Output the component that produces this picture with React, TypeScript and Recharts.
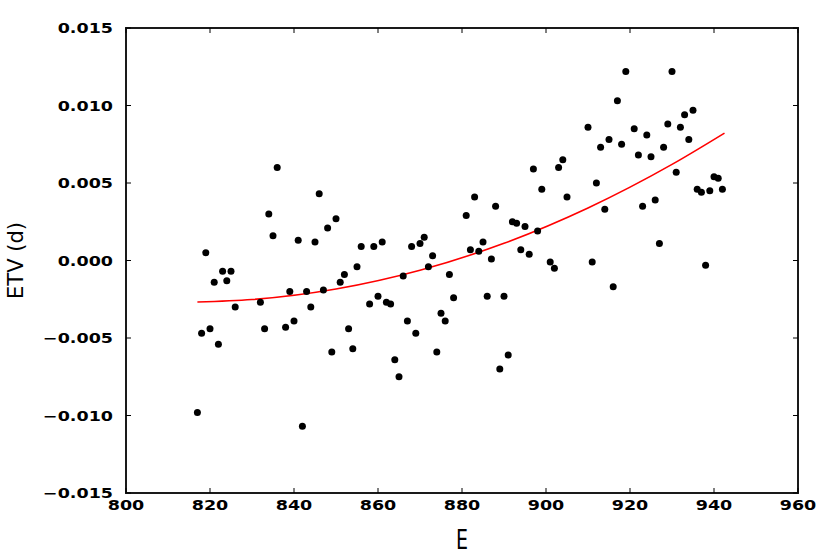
import {
  ComposedChart,
  Scatter,
  Line,
  XAxis,
  YAxis,
} from "recharts";

// epoch numbers and timing variations
const epochs = [
  817, 818, 819, 820, 821, 822, 823, 824, 825, 826,
  832, 833, 834, 835, 836, 838, 839, 840, 841, 842,
  843, 844, 845, 846, 847, 848, 849, 850, 851, 852,
  853, 854, 855, 856, 858, 859, 860, 861, 862, 863,
  864, 865, 866, 867, 868, 869, 870, 871, 872, 873,
  874, 875, 876, 877, 878, 881, 882, 883, 884, 885,
  886, 887, 888, 889, 890, 891, 892, 893, 894, 895,
  896, 897, 898, 899, 901, 902, 903, 904, 905, 910,
  911, 912, 913, 914, 915, 916, 917, 918, 919, 921,
  922, 923, 924, 925, 926, 927, 928, 929, 930, 931,
  932, 933, 934, 935, 936, 937, 938, 939, 940, 941,
  942,
];

const etv = [
  -0.0098, -0.0047, 0.0005, -0.0044, -0.0014, -0.0054, -0.0007, -0.0013, -0.0007, -0.003,
  -0.0027, -0.0044, 0.003, 0.0016, 0.006, -0.0043, -0.002, -0.0039, 0.0013, -0.0107,
  -0.002, -0.003, 0.0012, 0.0043, -0.0019, 0.0021, -0.0059, 0.0027, -0.0014, -0.0009,
  -0.0044, -0.0057, -0.0004, 0.0009, -0.0028, 0.0009, -0.0023, 0.0012, -0.0027, -0.0028,
  -0.0064, -0.0075, -0.001, -0.0039, 0.0009, -0.0047, 0.0011, 0.0015, -0.0004, 0.0003,
  -0.0059, -0.0034, -0.0039, -0.0009, -0.0024, 0.0029, 0.0007, 0.0041, 0.0006, 0.0012,
  -0.0023, 0.0001, 0.0035, -0.007, -0.0023, -0.0061, 0.0025, 0.0024, 0.0007, 0.0022,
  0.0004, 0.0059, 0.0019, 0.0046, -0.0001, -0.0005, 0.006, 0.0065, 0.0041, 0.0086,
  -0.0001, 0.005, 0.0073, 0.0033, 0.0078, -0.0017, 0.0103, 0.0075, 0.0122, 0.0085,
  0.0068, 0.0035, 0.0081, 0.0067, 0.0039, 0.0011, 0.0073, 0.0088, 0.0122, 0.0057,
  0.0086, 0.0094, 0.0078, 0.0097, 0.0046, 0.0044, -0.0003, 0.0045, 0.0054, 0.0053,
  0.0046,
];

// red fitted curve
const fitE = [817, 830, 850, 870, 890, 910, 930, 942.5];
const fitEtv = [-0.00268, -0.00252, -0.00184, -0.00063, 0.00111, 0.00339, 0.0062, 0.00822];

const xTicks = [800, 820, 840, 860, 880, 900, 920, 940, 960];
const yTicks = [-0.015, -0.01, -0.005, 0, 0.005, 0.01, 0.015];

const points = epochs.map((e, i) => ({ e, v: etv[i] }));
const fit = fitE.map((e, i) => ({ e, v: fitEtv[i] }));

const W = 830;
const H = 554;
const M_TOP = 28;
const M_RIGHT = 32;
const X_GAP = 7; // tickMargin of the x axis
const Y_GAP = 13; // tickMargin of the y axis
const TL = 5; // inward tick length

const tickFont = {
  fontFamily: "DejaVu Sans",
  fontWeight: "bold" as const,
  fontSize: 14,
  fill: "#000",
};

const fmtY = (v: number) => {
  const s = Math.abs(v).toFixed(3);
  return v < -1e-9 ? "\u2212" + s : s;
};

// label plus inward tick marks on bottom and top edges
const XTick = ({ x, y, payload }: any) => {
  const bottom = y - X_GAP;
  return (
    <g>
      <line x1={x} y1={bottom} x2={x} y2={bottom - TL} stroke="#000" strokeWidth={1} />
      <line x1={x} y1={M_TOP} x2={x} y2={M_TOP + TL} stroke="#000" strokeWidth={1} />
      <g transform={`translate(${x},${y}) scale(1.25,1)`}>
        <text x={0} y={0} dy={10} textAnchor="middle" {...tickFont}>
          {payload.value}
        </text>
      </g>
    </g>
  );
};

// label plus inward tick marks on left and right edges
const YTick = ({ x, y, payload }: any) => {
  const left = x + Y_GAP;
  const right = W - M_RIGHT;
  return (
    <g>
      <line x1={left} y1={y} x2={left + TL} y2={y} stroke="#000" strokeWidth={1} />
      <line x1={right} y1={y} x2={right - TL} y2={y} stroke="#000" strokeWidth={1} />
      <g transform={`translate(${x},${y}) scale(1.25,1)`}>
        <text x={0} y={0} dy={5} textAnchor="end" {...tickFont}>
          {fmtY(payload.value)}
        </text>
      </g>
    </g>
  );
};

const YLabel = ({ viewBox }: any) => {
  const cy = viewBox.y + viewBox.height / 2;
  return (
    <text
      x={23}
      y={cy}
      transform={`rotate(-90, 23, ${cy})`}
      textAnchor="middle"
      fontFamily="DejaVu Sans"
      fontSize={21}
      fill="#000"
    >
      ETV (d)
    </text>
  );
};

// x label, and the plot frame taken from the x axis box
const XLabel = ({ viewBox }: any) => {
  const cx = viewBox.x + viewBox.width / 2;
  return (
    <g>
      <rect
        x={viewBox.x}
        y={M_TOP}
        width={viewBox.width}
        height={viewBox.y - M_TOP}
        fill="none"
        stroke="#1a1a1a"
        strokeWidth={2}
      />
      <text
        x={cx}
        y={549}
        textAnchor="middle"
        fontFamily="DejaVu Sans"
        fontSize={26}
        textLength={12}
        lengthAdjust="spacingAndGlyphs"
        fill="#000"
      >
        E
      </text>
    </g>
  );
};

export default function App() {
  return (
    <div style={{ position: "absolute", left: 0, top: 0, width: W, height: H, background: "#fff" }}>
      <ComposedChart
        width={W}
        height={H}
        margin={{ top: M_TOP, right: M_RIGHT, bottom: 0, left: 0 }}
      >
        <XAxis
          xAxisId="b"
          dataKey="e"
          type="number"
          domain={[800, 960]}
          ticks={xTicks}
          height={61}
          tickSize={0}
          tickMargin={X_GAP}
          tick={<XTick />}
          axisLine={false}
          tickLine={false}
          label={{ content: XLabel }}
        />
        <YAxis
          yAxisId="l"
          type="number"
          domain={[-0.015, 0.015]}
          ticks={yTicks}
          width={126}
          tickSize={0}
          tickMargin={Y_GAP}
          tick={<YTick />}
          axisLine={false}
          tickLine={false}
          label={{ content: YLabel }}
        />
        <Line
          xAxisId="b"
          yAxisId="l"
          data={fit}
          dataKey="v"
          type="monotone"
          stroke="#ff0000"
          strokeWidth={1.6}
          dot={false}
          activeDot={false}
          isAnimationActive={false}
        />
        <Scatter
          xAxisId="b"
          yAxisId="l"
          data={points}
          dataKey="v"
          isAnimationActive={false}
          shape={(p: any) => <circle cx={p.cx} cy={p.cy} r={3.5} fill="#000" />}
        />
      </ComposedChart>
    </div>
  );
}
